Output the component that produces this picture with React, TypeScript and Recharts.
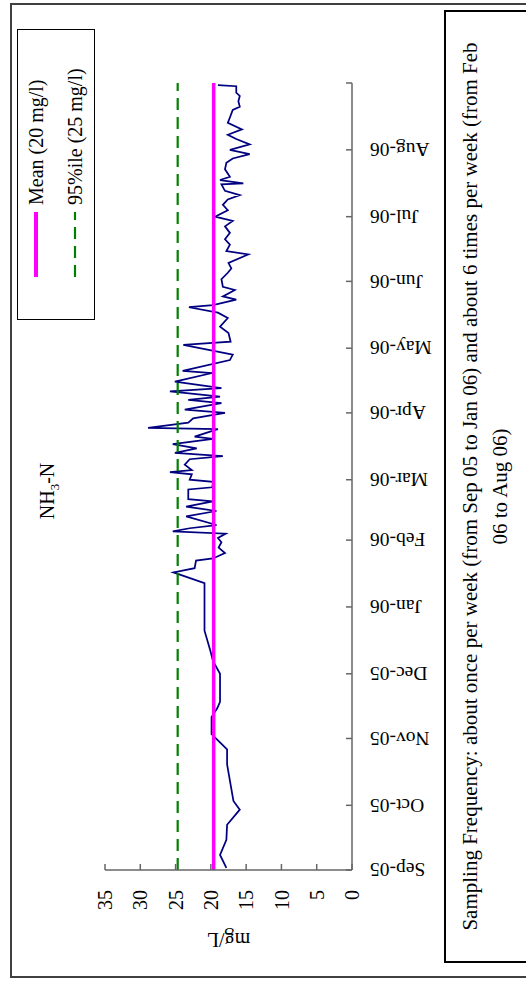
import React from "react";
import { LineChart, Line, XAxis, YAxis, Legend } from "recharts";

// sampling day, counted from 1 Sep 2005
const sampleDays = [
  1, 7, 14, 21, 28, 32, 49, 56, 63, 71, 75, 78, 91, 97, 102, 111, 133,
  138, 140, 143.5, 144.5, 147, 149.5, 152, 154, 156, 157, 158.5, 160, 164,
  166.5, 168.5, 171, 172, 176.5, 177.5, 180, 181, 183.5, 184.5, 185.5, 188,
  190.5, 192, 193.5, 195.5, 197.5, 200, 201, 204.5, 205, 207.5, 209.5, 212,
  213.5, 216.5, 218, 219.5, 222, 223.5, 226.5, 230.5, 231.5, 236.5, 239,
  243.5, 245, 249, 252, 256, 258.5, 261, 262, 264.5, 266, 269, 270.5, 274,
  277, 279, 281.5, 285.5, 287, 290, 292.5, 295.5, 298.5, 301, 303, 306,
  308.5, 311, 313, 315, 318, 318.5, 320, 321.5, 325, 328, 330, 332, 334,
  336.5, 339, 341, 343.5, 346.5, 349, 352.5, 354, 356.5, 359, 360.5, 363.5,
  364,
];

// NH3-N, mg/L
const nh3Values = [
  17.8, 18.7, 17.8, 17.7, 15.9, 16.8, 17.7, 17.7, 19.9, 19.9, 19.1, 18.7,
  18.7, 19.7, 20.1, 20.9, 20.9,
  25.3, 22.3, 22.1, 19.7, 18.0, 18.9, 18.5, 19.0, 17.9, 25.4, 23.0, 19.2,
  23.5, 19.2, 23.5, 19.7, 23.2, 23.2, 19.8, 19.7, 23.0, 22.7, 25.8, 22.7,
  23.7, 23.0, 18.3, 25.1, 22.0, 25.4, 19.7, 22.3, 19.0, 28.9, 23.2, 22.5,
  18.0, 23.7, 18.5, 23.2, 18.7, 25.8, 18.5, 25.1, 19.8, 24.0, 17.3, 16.9,
  23.9, 17.2, 17.5, 18.7, 17.6, 19.0, 23.1, 19.7, 16.4, 18.3, 16.6, 18.3,
  18.5, 17.6, 17.1, 17.5, 14.7, 17.8, 17.3, 18.0, 17.3, 18.0, 16.9, 19.4,
  17.6, 18.3, 17.6, 15.9, 18.0, 18.5, 15.4, 18.7, 17.3, 18.0, 17.8, 16.9,
  14.5, 17.3, 14.5, 16.4, 17.6, 15.6, 17.6, 17.3, 16.9, 15.9, 16.1, 15.9,
  16.4, 16.4, 19.0,
];

const monthStarts = [0, 30, 61, 91, 122, 153, 181, 212, 242, 273, 303, 334, 365];
const monthLabels = [
  "Sep-05", "Oct-05", "Nov-05", "Dec-05", "Jan-06", "Feb-06", "Mar-06",
  "Apr-06", "May-06", "Jun-06", "Jul-06", "Aug-06", "",
];
const valueTicks = [0, 5, 10, 15, 20, 25, 30, 35];

const meanLevel = 19.6;
const pct95Level = 24.7;

const series = sampleDays.map((day, i) => ({ day, nh3: nh3Values[i] }));
const meanData = [
  { day: 0, mean: meanLevel },
  { day: 365, mean: meanLevel },
];
const pctData = [
  { day: 0, pct95: pct95Level },
  { day: 365, pct95: pct95Level },
];

const serif = "'Liberation Serif', 'Times New Roman', serif";

const legendItems = [
  { label: "Mean (20 mg/l)", color: "#ff00ff", width: 4, dash: undefined },
  { label: "95%ile (25 mg/l)", color: "#008000", width: 2.2, dash: "12 7" },
];

const MonthTick = (props: any) => {
  const { x, y, payload } = props;
  const idx = monthStarts.indexOf(payload.value);
  const label = idx >= 0 ? monthLabels[idx] : "";
  if (!label) return null;
  return (
    <text
      x={x}
      y={y}
      transform={`rotate(-90, ${x}, ${y})`}
      textAnchor="end"
      dy="0.35em"
      fontFamily={serif}
      fontSize={19.5}
      fill="#000"
    >
      {label}
    </text>
  );
};

const AxisTitle = (props: any) => {
  const vb = props.viewBox;
  const cx = vb.x + 47;
  const cy = vb.y + vb.height / 2;
  return (
    <text
      x={cx}
      y={cy}
      transform={`rotate(-90, ${cx}, ${cy})`}
      textAnchor="middle"
      dominantBaseline="central"
      fontFamily={serif}
      fontSize={20}
      fill="#000"
    >
      mg/L
    </text>
  );
};

const LegendBox = () => (
  <div
    style={{
      position: "relative",
      width: 291,
      height: 78,
      border: "1.5px solid #000",
      boxSizing: "border-box",
      background: "#fff",
      fontFamily: serif,
      fontSize: 20,
      color: "#000",
    }}
  >
    {legendItems.map((item, i) => (
      <div
        key={item.label}
        style={{
          position: "absolute",
          left: 42,
          top: (i === 0 ? 18 : 57) - 12,
          height: 24,
          display: "flex",
          alignItems: "center",
          whiteSpace: "nowrap",
        }}
      >
        <svg width={65} height={6}>
          <line
            x1={0}
            y1={3}
            x2={65}
            y2={3}
            stroke={item.color}
            strokeWidth={item.width}
            strokeDasharray={item.dash}
          />
        </svg>
        <span style={{ marginLeft: 7 }}>{item.label}</span>
      </div>
    ))}
  </div>
);

export default function App() {
  // the figure is drawn landscape, then turned a quarter turn to the left
  const W = 987;
  const H = 540;
  return (
    <div
      style={{
        position: "absolute",
        left: 0,
        top: 0,
        width: 526,
        height: 987,
        overflow: "hidden",
        background: "#fff",
      }}
    >
      <div
        style={{
          position: "absolute",
          left: 0,
          top: 0,
          width: W,
          height: H,
          transformOrigin: "0 0",
          transform: `translate(0px, ${W}px) rotate(-90deg)`,
        }}
      >
        <div
          style={{
            position: "absolute",
            left: 9,
            top: 10,
            width: 975,
            height: 600,
            border: "2px solid #404040",
            boxSizing: "border-box",
          }}
        />
        <div
          style={{
            position: "absolute",
            left: 396,
            top: 35,
            width: 200,
            height: 24,
            lineHeight: "24px",
            textAlign: "center",
            fontFamily: serif,
            fontSize: 20,
            color: "#000",
          }}
        >
          NH<sub style={{ fontSize: "0.65em", lineHeight: 0 }}>3</sub>-N
        </div>
        <div style={{ position: "absolute", left: 0, top: 0 }}>
          <LineChart
            width={W}
            height={H}
            data={series}
            margin={{ top: 105, right: 83, bottom: 108, left: 0 }}
          >
            <XAxis
              dataKey="day"
              type="number"
              domain={[0, 365]}
              ticks={monthStarts}
              interval={0}
              allowDataOverflow
              height={80}
              tickSize={-6}
              tickMargin={24}
              tick={<MonthTick />}
              axisLine={{ stroke: "#666", strokeWidth: 1.5 }}
              tickLine={{ stroke: "#666", strokeWidth: 1.5 }}
            />
            <YAxis
              type="number"
              domain={[0, 35]}
              ticks={valueTicks}
              interval={0}
              width={117}
              tickSize={-6}
              tickMargin={26}
              tick={{ fontFamily: serif, fontSize: 20, fill: "#000" }}
              axisLine={{ stroke: "#666", strokeWidth: 1.5 }}
              tickLine={{ stroke: "#666", strokeWidth: 1.5 }}
              label={{ value: "mg/L", content: <AxisTitle /> }}
            />
            <Legend
              layout="horizontal"
              verticalAlign="middle"
              align="center"
              wrapperStyle={{ top: 17, left: 667, width: 291, height: 78 }}
              content={<LegendBox />}
            />
            <Line
              dataKey="nh3"
              type="linear"
              stroke="#000080"
              strokeWidth={1.75}
              dot={false}
              isAnimationActive={false}
              legendType="none"
            />
            <Line
              data={pctData}
              dataKey="pct95"
              type="linear"
              stroke="#008000"
              strokeWidth={2.2}
              strokeDasharray="12 7"
              dot={false}
              isAnimationActive={false}
            />
            <Line
              data={meanData}
              dataKey="mean"
              type="linear"
              stroke="#ff00ff"
              strokeWidth={3.5}
              dot={false}
              isAnimationActive={false}
            />
          </LineChart>
        </div>
        <div
          style={{
            position: "absolute",
            left: 24,
            top: 444,
            width: 953,
            height: 100,
            border: "2px solid #000",
            boxSizing: "border-box",
            paddingTop: 9,
            textAlign: "center",
            fontFamily: serif,
            fontSize: 21,
            lineHeight: "30px",
            color: "#000",
            background: "#fff",
          }}
        >
          <div style={{ whiteSpace: "nowrap" }}>
            Sampling Frequency: about once per week (from Sep 05 to Jan 06) and
            about 6 times per week (from Feb
          </div>
          <div>06 to Aug 06)</div>
        </div>
      </div>
    </div>
  );
}
